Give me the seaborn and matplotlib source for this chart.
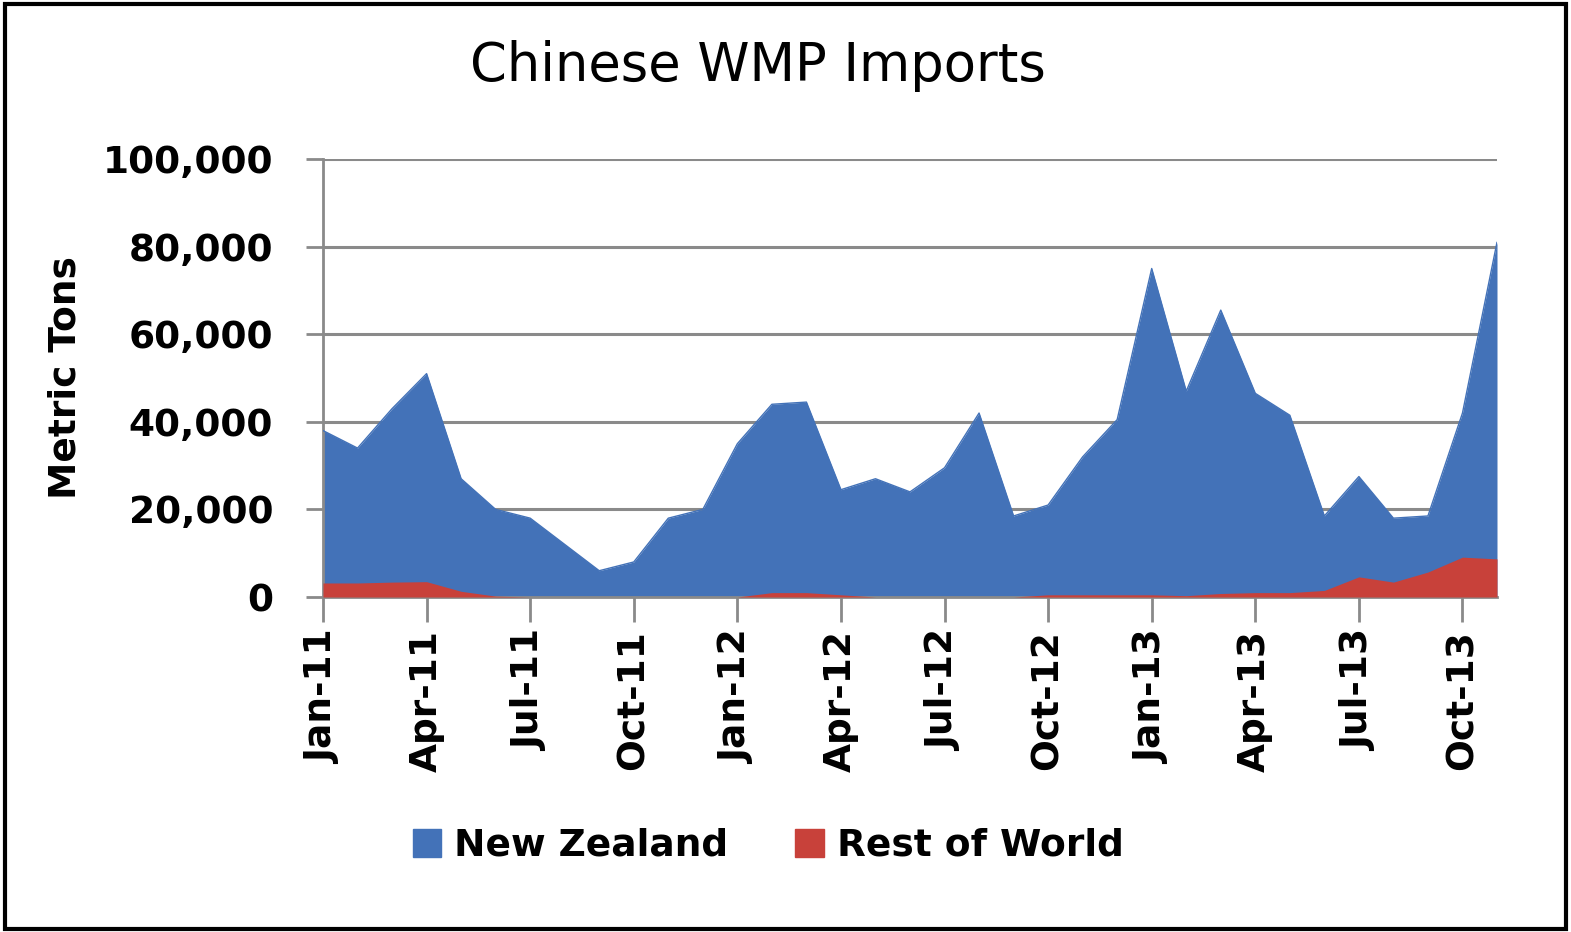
import matplotlib
matplotlib.use("Agg")
import matplotlib.pyplot as plt
from matplotlib.patches import Patch, Rectangle
import seaborn as sns
import numpy as np
import pandas as pd

months = ["Jan-11","Feb-11","Mar-11","Apr-11","May-11","Jun-11","Jul-11","Aug-11","Sep-11","Oct-11","Nov-11","Dec-11",
          "Jan-12","Feb-12","Mar-12","Apr-12","May-12","Jun-12","Jul-12","Aug-12","Sep-12","Oct-12","Nov-12","Dec-12",
          "Jan-13","Feb-13","Mar-13","Apr-13","May-13","Jun-13","Jul-13","Aug-13","Sep-13","Oct-13","Nov-13"]
new_zealand = [38000, 34000, 43000, 51000, 27000, 20000, 18000, 12000, 6000, 8000, 18000, 20000,
               35000, 44000, 44500, 24500, 27000, 24000, 29500, 42000, 18500, 21000, 32000, 40500,
               75000, 47000, 65500, 46500, 41500, 18500, 27500, 18000, 18500, 42000, 81000]
rest_of_world = [3200, 3200, 3400, 3500, 1300, 200, 0, 0, 0, 0, 0, 0,
                 0, 1000, 1000, 500, 0, 0, 0, 0, 0, 500, 500, 500,
                 500, 300, 800, 1000, 1000, 1500, 4600, 3400, 5700, 9100, 8700]
tick_labels = ["Jan-11","Apr-11","Jul-11","Oct-11","Jan-12","Apr-12","Jul-12","Oct-12","Jan-13","Apr-13","Jul-13","Oct-13"]
y_ticks = [0, 20000, 40000, 60000, 80000, 100000]

sns.set_theme(style="white")
plt.rcParams['font.family'] = ['DejaVu Sans']
plt.rcParams['text.color'] = 'black'
plt.rcParams['axes.labelcolor'] = 'black'
plt.rcParams['xtick.labelcolor'] = 'black'
plt.rcParams['ytick.labelcolor'] = 'black'

df = pd.DataFrame({"idx": np.arange(len(months)), "month": months,
                   "New Zealand": new_zealand, "Rest of World": rest_of_world})

blue = "#4372B8"
red = "#C8413A"
grid_c = "#8a8a8a"

fig = plt.figure(figsize=(15.71, 9.32), dpi=100)
ax = fig.add_axes([323/1571, 1-597/932, (1497-323)/1571, (597-159)/932])

ax.fill_between(df["idx"], 0, df["New Zealand"], color=blue, linewidth=0, zorder=2)
sns.lineplot(data=df, x="idx", y="New Zealand", color=blue, linewidth=1, ax=ax, zorder=3)
ax.fill_between(df["idx"], 0, df["Rest of World"], color=red, linewidth=0, zorder=4)

ax.set_xlim(0, len(months) - 1)
ax.set_ylim(0, 100000)
ax.set_yticks(y_ticks)
ax.set_yticklabels([f"{v:,}" for v in y_ticks], fontsize=27, fontweight="bold")
tick_pos = [months.index(t) for t in tick_labels]
ax.set_xticks(tick_pos)
ax.set_xticklabels(tick_labels, rotation=90, fontsize=27, fontweight="bold")
ax.set_xlabel("")
ax.set_ylabel("Metric Tons", fontsize=27, fontweight="bold")
ax.yaxis.set_label_coords(-240/1174, 0.5)

for v in y_ticks[1:]:
    ax.axhline(v, color=grid_c, linewidth=2.2, zorder=1)

for s in ["top", "right"]:
    ax.spines[s].set_visible(False)
ax.spines["left"].set_color(grid_c)
ax.spines["left"].set_linewidth(2)
ax.spines["bottom"].set_color(grid_c)
ax.spines["bottom"].set_linewidth(2)
ax.tick_params(axis="y", direction="out", length=12, width=2, color=grid_c, pad=24, left=True)
ax.tick_params(axis="x", direction="out", length=18, width=2, color=grid_c, pad=6, bottom=True)

fig.text(758/1571, 1-66/932, "Chinese WMP Imports", fontsize=38, ha="center", va="center", color="black")

handles = [Patch(facecolor=blue, edgecolor=blue, label="New Zealand"),
           Patch(facecolor=red, edgecolor=red, label="Rest of World")]
fig.legend(handles=handles, loc="center", bbox_to_anchor=(768/1571, 1-846/932), ncol=2, frameon=False,
           prop={"size": 27, "weight": "bold"}, handlelength=0.75, handleheight=0.75, handletextpad=0.35,
           columnspacing=1.8)

fig.patches.append(Rectangle((5/1571, 3/932), 1561/1571, 925/932, transform=fig.transFigure,
                             fill=False, edgecolor="black", linewidth=3))

fig.savefig("out.png", dpi=100)
